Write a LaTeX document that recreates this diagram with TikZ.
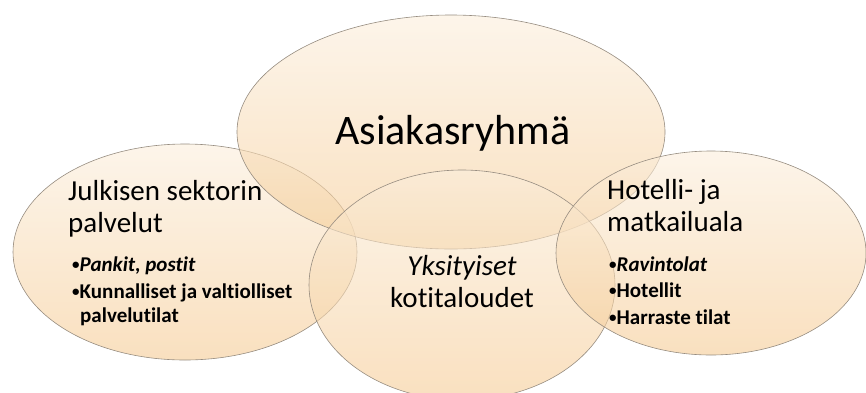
\documentclass[tikz,border=0pt]{standalone}
\usepackage{fontspec}
\setmainfont{Carlito}[Ligatures=NoCommon]
\usetikzlibrary{shapes.geometric}

\definecolor{peachtop}{RGB}{251,238,220}
\definecolor{peachbot}{RGB}{245,203,148}
\definecolor{rimgray}{RGB}{150,140,128}

\newcommand\bul{\raisebox{1.5pt}{\fontsize{15}{15}\selectfont•}}

\begin{document}
\begin{tikzpicture}[x=1pt,y=-1pt,
  blob/.style={ellipse, draw=rimgray, line width=0.6pt, top color=peachtop,
    bottom color=peachbot, fill opacity=0.6, inner sep=0pt},
  big/.style={font=\fontsize{42}{48}\selectfont, inner sep=0pt},
  head/.style={anchor=base west, font=\fontsize{29}{34}\selectfont, inner sep=0pt},
  item/.style={anchor=base west, font=\fontsize{21}{24}\selectfont\bfseries, inner sep=0pt}]

\useasboundingbox (0,0) rectangle (866,392);
\clip (0,0) rectangle (866,392);

%% the four groups
\node[blob, minimum width=344pt, minimum height=216pt] (julk) at (185,252) {};
\node[blob, minimum width=428pt, minimum height=234pt] (asiakas) at (451,132) {};
\node[blob, minimum width=306pt, minimum height=230pt] (koti) at (462,285) {};
\node[blob, minimum width=310pt, minimum height=204pt] (hotel) at (711,253) {};

%% title
\node[big, anchor=base] (asiakasT) at (453,144) {Asiakasryhmä};

%% left group
\node[head] (julkA) at (68,200) {Julkisen sektorin};
\node[head] (julkB) at (68,232) {palvelut};
\node[item] (julkC) at (72,271) {\bul\itshape Pankit, postit};
\node[item] (julkD) at (72,298) {\bul Kunnalliset ja valtiolliset};
\node[item] (julkE) at (80,322) {palvelutilat};

%% middle group
\node[head, anchor=base] (kotiA) at (462,275) {\itshape Yksityiset};
\node[head, anchor=base] (kotiB) at (462,307) {kotitaloudet};

%% right group
\node[head] (hotelA) at (607,199) {Hotelli- ja};
\node[head] (hotelB) at (607,231) {matkailuala};
\node[item] (hotelC) at (609,271) {\bul\itshape Ravintolat};
\node[item] (hotelD) at (609,297) {\bul Hotellit};
\node[item] (hotelE) at (609,324) {\bul Harraste tilat};

\end{tikzpicture}
\end{document}
